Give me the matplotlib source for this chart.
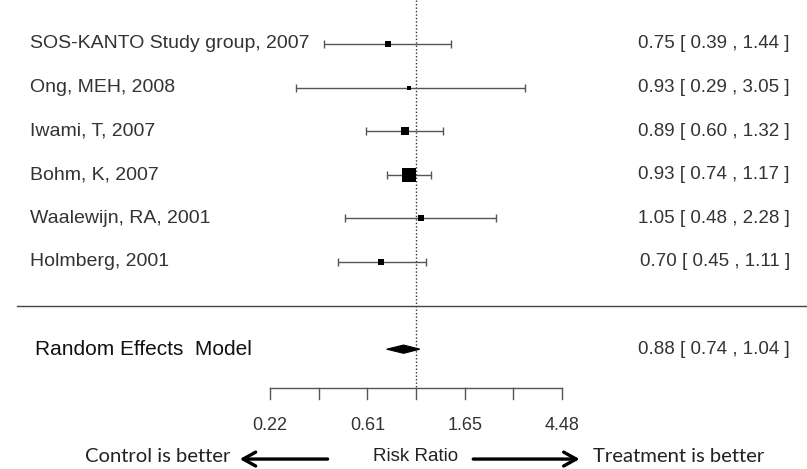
import numpy as np
import matplotlib
matplotlib.use("Agg")
import matplotlib.pyplot as plt
from matplotlib.patches import Polygon
from matplotlib.transforms import blended_transform_factory

plt.rcParams['font.family'] = ['Liberation Sans', 'DejaVu Sans']

# study data (risk ratios with 95% CI)
studies = ["SOS-KANTO Study group, 2007", "Ong, MEH, 2008", "Iwami, T, 2007",
           "Bohm, K, 2007", "Waalewijn, RA, 2001", "Holmberg, 2001"]
rr = [0.75, 0.93, 0.89, 0.93, 1.05, 0.70]
ci_lo = [0.39, 0.29, 0.60, 0.74, 0.48, 0.45]
ci_hi = [1.44, 3.05, 1.32, 1.17, 2.28, 1.11]
weights = [8.0, 6.0, 15.0, 55.0, 8.0, 12.0]

re_label = "Random Effects  Model"
re_rr, re_lo, re_hi = 0.88, 0.74, 1.04

log_ticks = [-1.5, -1.0, -0.5, 0.0, 0.5, 1.0, 1.5]
tick_labels = ["0.22", "0.61", "1.65", "4.48"]
tick_label_pos = [-1.5, -0.5, 0.5, 1.5]

fig = plt.figure(figsize=(8.07, 4.69), dpi=100)
ax = fig.add_axes([0, 0, 1, 1])
ax.set_xscale('log')
ax.set_xlim(np.exp(-416 / 97.3), np.exp(391 / 97.3))
ax.set_ylim(9.748, -1.009)
ax.axis('off')

lbl = blended_transform_factory(ax.transAxes, ax.transData)
txt_col = '#333333'
rows = np.arange(len(studies))

# CI lines with end caps
xerr = [np.array(rr) - np.array(ci_lo), np.array(ci_hi) - np.array(rr)]
ax.errorbar(rr, rows, xerr=xerr, fmt='none', ecolor='#555555', elinewidth=1.0,
            capsize=2.8, capthick=1.0, zorder=2)

# boxes sized by weight
sizes = 10.0 * np.sqrt(np.array(weights) / max(weights))
for i in rows:
    ax.plot(rr[i], i, marker='s', color='black', markersize=sizes[i],
            markeredgewidth=0, zorder=3)
    ax.text(30 / 807, i, studies[i], transform=lbl, ha='left', va='center',
            fontsize=14, color=txt_col)
    ax.text(790 / 807, i, f"{rr[i]:.2f} [ {ci_lo[i]:.2f} , {ci_hi[i]:.2f} ]",
            transform=lbl, ha='right', va='center', fontsize=13.5, color=txt_col)

# separator
ax.plot([17 / 807, 1], [6, 6], transform=lbl, color='#444444', lw=1.0)

# summary diamond
y_re = 7
h = 0.095
ax.add_patch(Polygon([(re_lo, y_re), (re_rr, y_re - h), (re_hi, y_re), (re_rr, y_re + h)],
                     closed=True, facecolor='black', edgecolor='black', lw=0.8, zorder=3))
ax.text(35 / 807, y_re, re_label, transform=lbl, ha='left', va='center',
        fontsize=15, color='#111111')
ax.text(790 / 807, y_re, f"{re_rr:.2f} [ {re_lo:.2f} , {re_hi:.2f} ]",
        transform=lbl, ha='right', va='center', fontsize=13.5, color=txt_col)

# reference line at RR = 1
y_axis = 7.89
ax.plot([1, 1], [-1.009, y_axis], color='#333333', lw=1.0, ls=(0, (1, 1.5)), zorder=1)

# x axis
ticks = np.exp(log_ticks)
ax.plot([ticks[0], ticks[-1]], [y_axis, y_axis], color='#555555', lw=1.0)
for t in ticks:
    ax.plot([t, t], [y_axis, y_axis + 0.25], color='#555555', lw=1.0)
for p, s in zip(tick_label_pos, tick_labels):
    ax.text(np.exp(p), 8.74, s, ha='center', va='center', fontsize=13, color=txt_col)

# bottom caption with arrows
y_cap = 9.52
ax.text(1, 9.45, "Risk Ratio", ha='center', va='center', fontsize=13.5, color='#222222')
arrow = dict(arrowstyle='->,head_length=0.9,head_width=0.5', lw=2.4, color='black')
ax.annotate("", xy=(np.exp(-1.84), y_cap), xytext=(np.exp(-0.88), y_cap), arrowprops=arrow)
ax.annotate("", xy=(np.exp(1.71), y_cap), xytext=(np.exp(0.56), y_cap), arrowprops=arrow)
ax.text(230 / 807, 9.47, "Control is better", transform=lbl, ha='right', va='center',
        fontsize=14.6, color='#222222', family='Lato')
ax.text(593 / 807, 9.47, "Treatment is better", transform=lbl, ha='left', va='center',
        fontsize=14.6, color='#222222', family='Lato')

fig.savefig("out.png", dpi=100)
